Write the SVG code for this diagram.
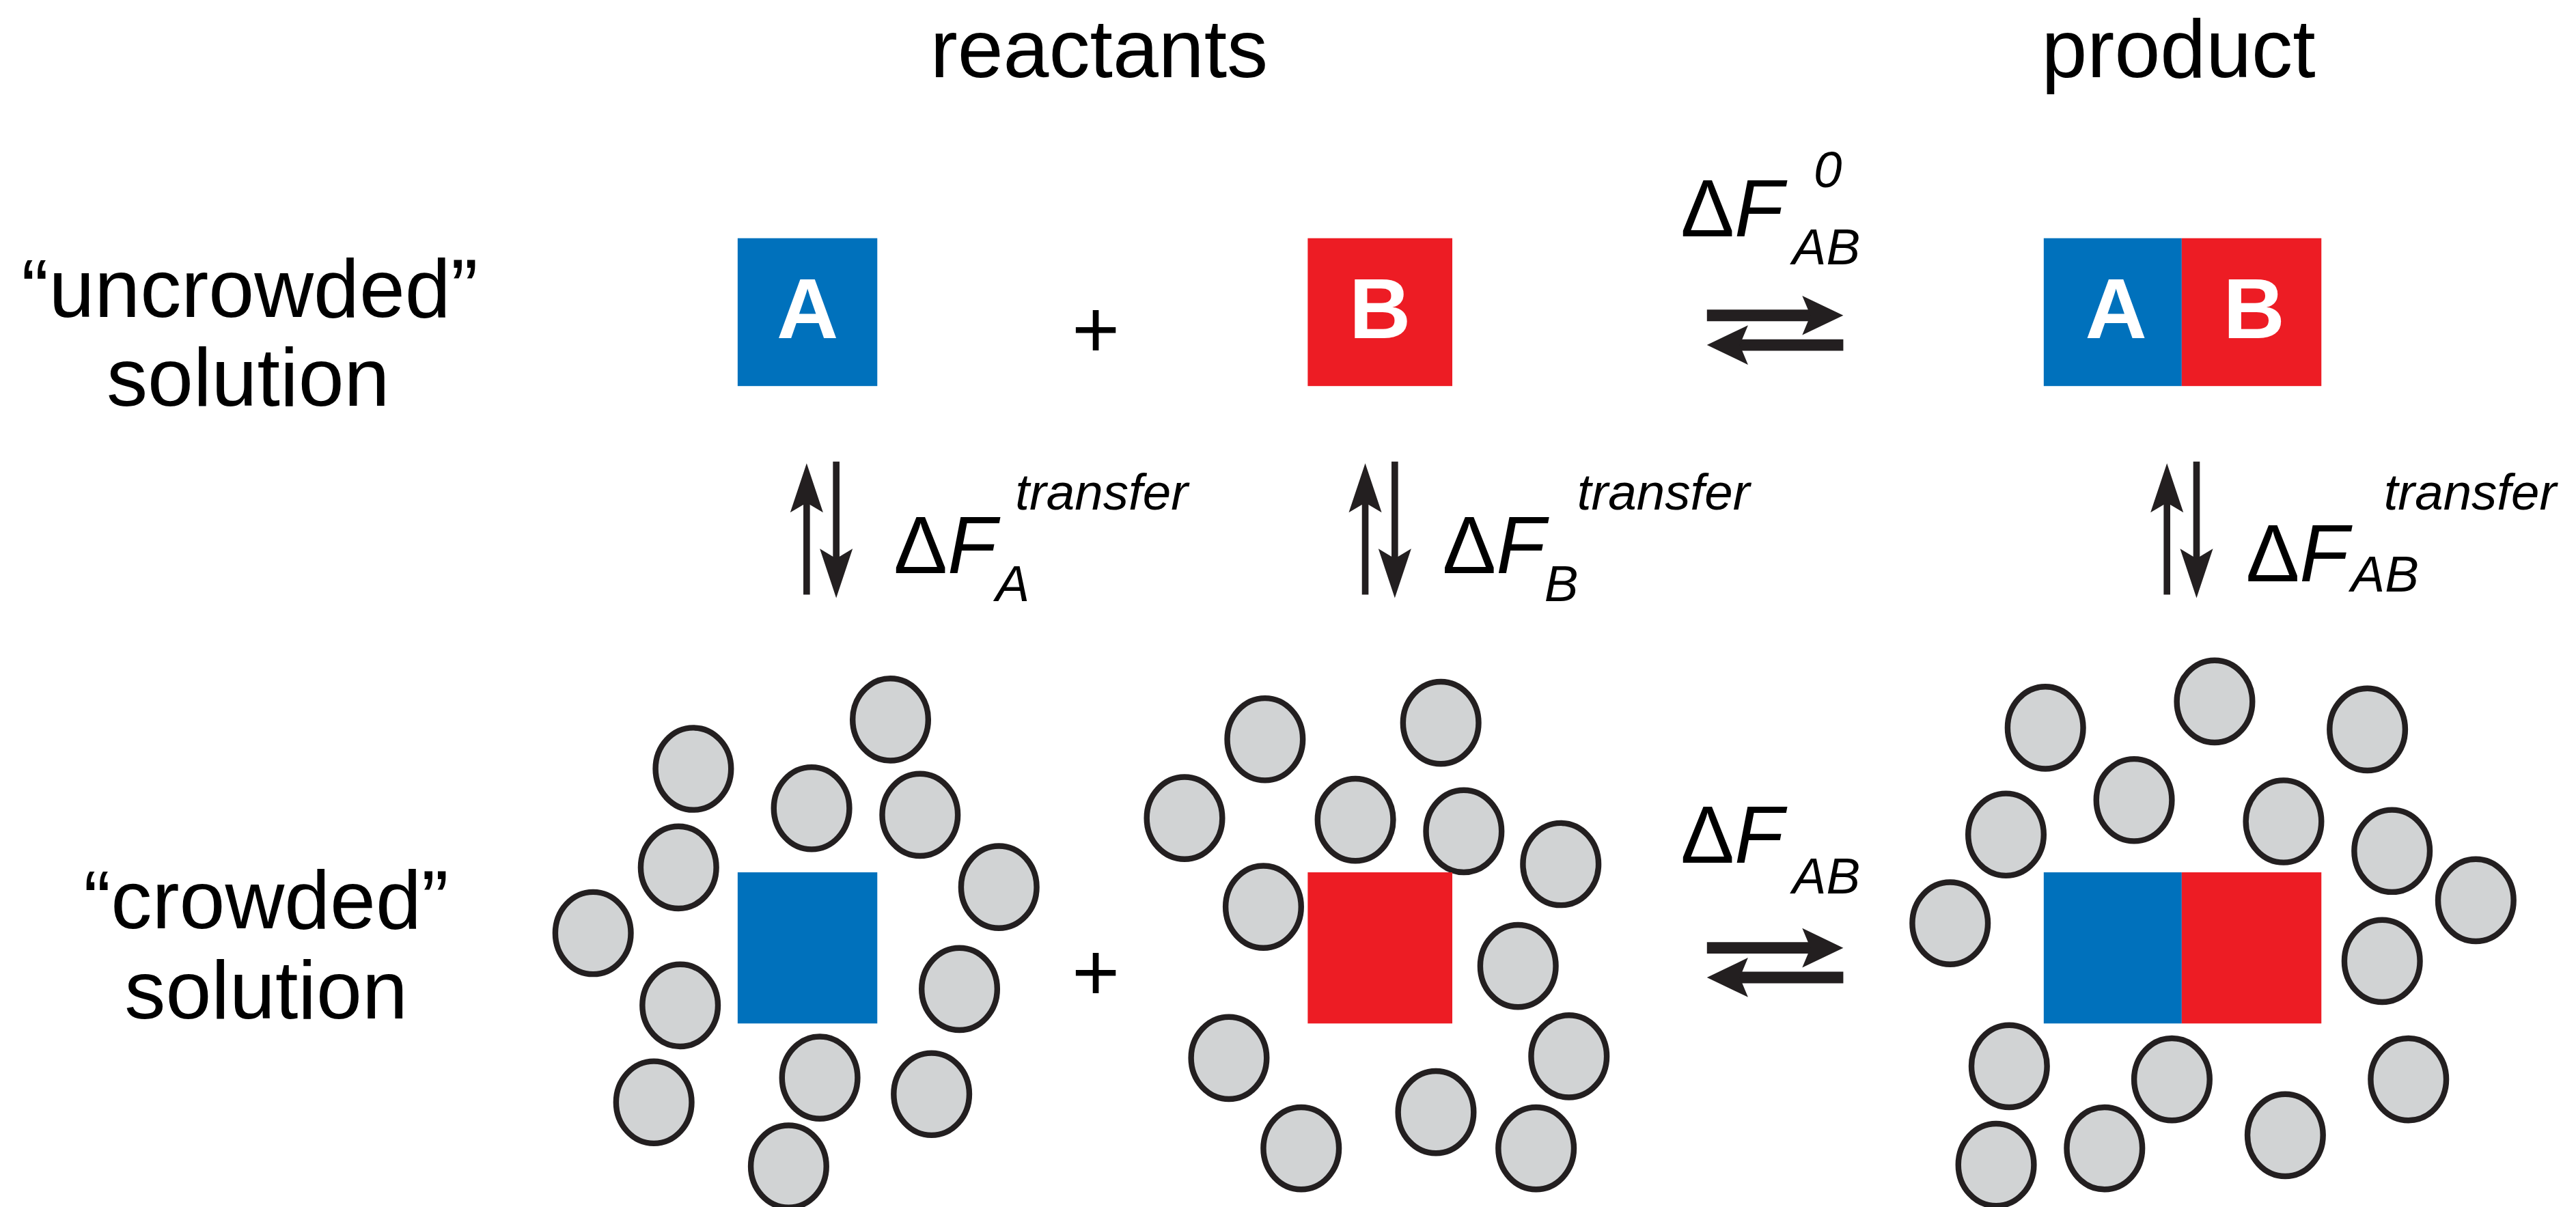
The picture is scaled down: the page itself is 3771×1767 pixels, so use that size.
<svg xmlns="http://www.w3.org/2000/svg" width="3771" height="1767" viewBox="0 0 3771 1767">
<style>
text{font-family:"Liberation Sans",Arial,sans-serif;fill:#000}
.lab{font-size:50px;text-anchor:middle}
.let{font-size:52px;font-weight:bold;fill:#fff;text-anchor:middle}
.eq{font-size:49px}
.it{font-style:italic}
.sm{font-size:31px;font-style:italic}
.c{fill:#D1D3D4;stroke:#231F20;stroke-width:3.5}
.blue{fill:#0071BC}.red{fill:#ED1C24}
.ln{stroke:#231F20;fill:none}
.hd{fill:#231F20}
</style>
<rect width="3771" height="1767" fill="#fff"/>
<g transform="scale(2.405)">
<g id="headers">
<text class="lab" x="669" y="47">reactants</text>
<text class="lab" x="1326" y="47">product</text>
<text class="lab" x="152" y="193">“uncrowded”</text>
<text class="lab" x="151" y="247">solution</text>
<text class="lab" x="162" y="565">“crowded”</text>
<text class="lab" x="162" y="620">solution</text>
</g>
<g id="nodeA"><rect class="blue" x="449" y="145" width="85" height="90"/><text class="let" x="491.5" y="206">A</text></g>
<g id="plus1"><text x="667" y="218" font-size="50" text-anchor="middle">+</text></g>
<g id="nodeB"><rect class="red" x="796" y="145" width="88" height="90"/><text class="let" x="840" y="206">B</text></g>
<g id="nodeAB"><rect class="blue" x="1244" y="145" width="84" height="90"/><rect class="red" x="1328" y="145" width="85" height="90"/><text class="let" x="1288" y="206">A</text><text class="let" x="1372" y="206">B</text></g>
<g id="labelF0"><text class="eq" x="1023" y="144">Δ<tspan class="it">F</tspan></text><text class="sm" x="1104" y="114">0</text><text class="sm" x="1091" y="161">AB</text></g>
<g id="labelFA"><text class="eq" x="544" y="349">Δ<tspan class="it">F</tspan></text><text class="sm" x="618" y="310">transfer</text><text class="sm" x="606" y="366">A</text></g>
<g id="labelFB"><text class="eq" x="878" y="349">Δ<tspan class="it">F</tspan></text><text class="sm" x="960" y="310">transfer</text><text class="sm" x="940" y="366">B</text></g>
<g id="labelFAB"><text class="eq" x="1367" y="354">Δ<tspan class="it">F</tspan></text><text class="sm" x="1451" y="310">transfer</text><text class="sm" x="1431" y="360">AB</text></g>
<g id="labelF"><text class="eq" x="1023" y="525">Δ<tspan class="it">F</tspan></text><text class="sm" x="1091" y="544">AB</text></g>
<g id="crowdedA">
<g class="c">
<ellipse cx="542" cy="438" rx="23" ry="25"/><ellipse cx="422" cy="468" rx="23" ry="25"/><ellipse cx="494" cy="492" rx="23" ry="25"/><ellipse cx="560" cy="496" rx="23" ry="25"/><ellipse cx="413" cy="528" rx="23" ry="25"/><ellipse cx="608" cy="540" rx="23" ry="25"/><ellipse cx="361" cy="568" rx="23" ry="25"/><ellipse cx="414" cy="612" rx="23" ry="25"/><ellipse cx="584" cy="602" rx="23" ry="25"/><ellipse cx="499" cy="656" rx="23" ry="25"/><ellipse cx="567" cy="666" rx="23" ry="25"/><ellipse cx="398" cy="671" rx="23" ry="25"/><ellipse cx="480" cy="710" rx="23" ry="25"/>
</g>
<rect class="blue" x="449" y="531" width="85" height="92"/>
</g>
<g id="plus2"><text x="667" y="609" font-size="50" text-anchor="middle">+</text></g>
<g id="crowdedB">
<g class="c">
<ellipse cx="770" cy="450" rx="23" ry="25"/><ellipse cx="721" cy="498" rx="23" ry="25"/><ellipse cx="769" cy="552" rx="23" ry="25"/><ellipse cx="748" cy="644" rx="23" ry="25"/><ellipse cx="792" cy="699" rx="23" ry="25"/><ellipse cx="877" cy="440" rx="23" ry="25"/><ellipse cx="825" cy="499" rx="23" ry="25"/><ellipse cx="891" cy="506" rx="23" ry="25"/><ellipse cx="950" cy="526" rx="23" ry="25"/><ellipse cx="924" cy="588" rx="23" ry="25"/><ellipse cx="955" cy="643" rx="23" ry="25"/><ellipse cx="874" cy="677" rx="23" ry="25"/><ellipse cx="935" cy="699" rx="23" ry="25"/>
</g>
<rect class="red" x="796" y="531" width="88" height="92"/>
</g>
<g id="crowdedAB">
<g class="c">
<ellipse cx="1245" cy="443" rx="23" ry="25"/><ellipse cx="1348" cy="427" rx="23" ry="25"/><ellipse cx="1441" cy="444" rx="23" ry="25"/><ellipse cx="1299" cy="487" rx="23" ry="25"/><ellipse cx="1390" cy="500" rx="23" ry="25"/><ellipse cx="1221" cy="508" rx="23" ry="25"/><ellipse cx="1456" cy="518" rx="23" ry="25"/><ellipse cx="1507" cy="548" rx="23" ry="25"/><ellipse cx="1187" cy="562" rx="23" ry="25"/><ellipse cx="1450" cy="585" rx="23" ry="25"/><ellipse cx="1223" cy="649" rx="23" ry="25"/><ellipse cx="1322" cy="657" rx="23" ry="25"/><ellipse cx="1466" cy="657" rx="23" ry="25"/><ellipse cx="1215" cy="709" rx="23" ry="25"/><ellipse cx="1281" cy="699" rx="23" ry="25"/><ellipse cx="1391" cy="691" rx="23" ry="25"/>
</g>
<rect class="blue" x="1244" y="531" width="84" height="92"/><rect class="red" x="1328" y="531" width="85" height="92"/>
</g>
<g id="connectors">
<!-- horizontal equilibrium top -->
<path class="ln" stroke-width="7" d="M1039 192H1105M1122 210H1056"/>
<polygon class="hd" points="1122,192 1097,180 1102,192 1097,204"/>
<polygon class="hd" points="1039,210 1064,198 1059,210 1064,222"/>
<!-- horizontal equilibrium bottom -->
<path class="ln" stroke-width="7" d="M1039 577H1105M1122 595H1056"/>
<polygon class="hd" points="1122,577 1097,565 1102,577 1097,589"/>
<polygon class="hd" points="1039,595 1064,583 1059,595 1064,607"/>
<!-- vertical A -->
<path class="ln" stroke-width="4" d="M491 362V300M509 281V345"/>
<polygon class="hd" points="491,282 481,312 491,306 501,312"/>
<polygon class="hd" points="509,364 499,334 509,340 519,334"/>
<!-- vertical B -->
<path class="ln" stroke-width="4" d="M831 362V300M849 281V345"/>
<polygon class="hd" points="831,282 821,312 831,306 841,312"/>
<polygon class="hd" points="849,364 839,334 849,340 859,334"/>
<!-- vertical AB -->
<path class="ln" stroke-width="4" d="M1319 362V300M1337 281V345"/>
<polygon class="hd" points="1319,282 1309,312 1319,306 1329,312"/>
<polygon class="hd" points="1337,364 1327,334 1337,340 1347,334"/>
</g>
</g>
</svg>
